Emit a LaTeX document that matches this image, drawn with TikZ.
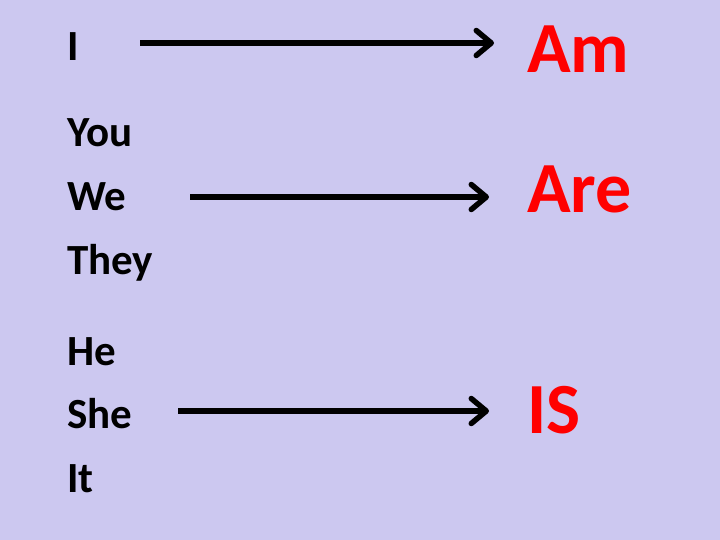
\documentclass[tikz,border=0pt]{standalone}
\usepackage{fontspec}
\setmainfont{Carlito}
\usetikzlibrary{arrows.meta}

\definecolor{slidebg}{RGB}{204,200,240}

\tikzset{
    pronoun/.style={anchor=base west, inner sep=0pt, font=\bfseries\fontsize{43}{52}\selectfont},
    verb/.style={anchor=base west, inner sep=0pt, text=red, font=\bfseries\fontsize{72}{86}\selectfont},
    pointer/.style={line width=5.5pt, -{Straight Barb[length=15pt, width=25pt, round]}}
}

\begin{document}
\begin{tikzpicture}[x=1pt, y=-1pt]
        % slide background, fixes the page size too
        \fill[slidebg] (0,0) rectangle (720,540);
        \useasboundingbox (0,0) rectangle (720,540);

        % left column: subjects
        \node[pronoun] (i)    at (67,61)  {I};
        \node[pronoun] (you)  at (67,147) {You};
        \node[pronoun] (we)   at (67,211) {We};
        \node[pronoun] (they) at (67,274) {They};
        \node[pronoun] (he)   at (67,365) {He};
        \node[pronoun] (she)  at (67,428) {She};
        \node[pronoun] (it)   at (67,492) {It};

        % right column: the verb forms
        \node[verb] (am)  at (527,73)  {Am};
        \node[verb] (are) at (527,213) {Are};
        \node[verb] (is)  at (527,433) {IS};

        % arrow ends
        \coordinate (am-from)  at (140,43);
        \coordinate (am-to)    at (494,43);
        \coordinate (are-from) at (190,197);
        \coordinate (are-to)   at (489,197);
        \coordinate (is-from)  at (178,411);
        \coordinate (is-to)    at (489,411);

        \draw[pointer] (am-from)  -- (am-to);  % I -> Am
        \draw[pointer] (are-from) -- (are-to); % You/We/They -> Are
        \draw[pointer] (is-from)  -- (is-to);  % He/She/It -> IS
    \end{tikzpicture}
\end{document}
